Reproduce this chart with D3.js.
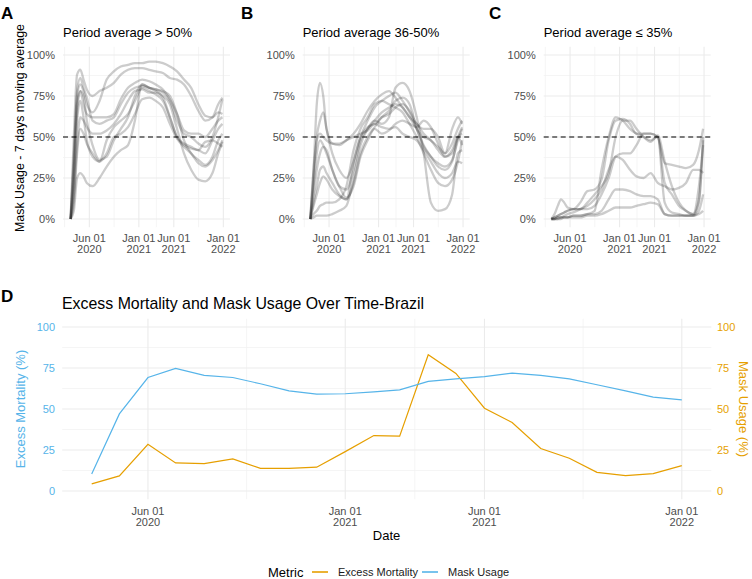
<!DOCTYPE html>
<html>
<head>
<meta charset="utf-8">
<script src="https://cdn.jsdelivr.net/npm/d3@7"></script>
<style>
  body { margin: 0; background: #fff; }
  svg { display: block; font-family: "Liberation Sans", Arial, sans-serif; }
</style>
</head>
<body>
<div id="chart"></div>
<script>
// ---- data -------------------------------------------------------------
var periodDates = ["2020-03-12", "2020-03-26", "2020-04-09", "2020-04-23", "2020-05-07", "2020-05-21",
    "2020-06-15", "2020-07-15", "2020-08-15", "2020-09-15", "2020-10-15", "2020-11-15", "2020-12-15",
    "2021-01-15", "2021-02-15", "2021-03-15", "2021-04-15", "2021-05-15", "2021-06-15", "2021-07-15",
    "2021-08-15", "2021-09-15", "2021-10-15", "2021-11-15", "2021-12-10", "2021-12-28"];

// mask usage (%) per region, 7 days moving average
var groupAbove50 = [
    [0, 40, 75, 82, 78, 70, 65, 72, 85, 90, 93, 94, 95, 95, 96, 96, 95, 93, 90, 85, 80, 70, 63, 62, 65, 64],
    [0, 50, 88, 91, 85, 79, 75, 78, 80, 83, 88, 91, 92, 92, 91, 90, 89, 86, 85, 82, 75, 66, 60, 62, 70, 74],
    [0, 5, 25, 28, 26, 22, 20, 25, 32, 38, 42, 45, 60, 82, 80, 78, 75, 70, 55, 40, 30, 24, 23, 28, 40, 47],
    [0, 30, 70, 78, 75, 60, 45, 36, 38, 48, 55, 62, 75, 82, 80, 79, 78, 75, 64, 48, 40, 36, 33, 38, 48, 52],
    [0, 20, 60, 72, 62, 48, 38, 35, 48, 56, 60, 64, 72, 80, 78, 76, 72, 62, 50, 45, 43, 42, 40, 48, 55, 58],
    [0, 35, 78, 86, 80, 74, 60, 58, 60, 62, 70, 77, 80, 81, 80, 79, 77, 72, 60, 52, 50, 46, 44, 50, 62, 73],
    [0, 25, 65, 78, 70, 64, 62, 62, 62, 64, 73, 80, 83, 85, 84, 82, 79, 73, 64, 54, 52, 52, 50, 55, 60, 62],
    [0, 15, 45, 62, 60, 56, 52, 52, 54, 58, 64, 72, 78, 79, 77, 77, 74, 62, 50, 46, 44, 42, 47, 48, 46, 44],
    [0, 10, 40, 55, 52, 46, 40, 35, 40, 50, 52, 56, 64, 73, 74, 72, 68, 58, 49, 44, 40, 34, 32, 36, 42, 48]
];
var group36to50 = [
    [0, 30, 70, 83, 75, 55, 46, 45, 48, 52, 58, 66, 72, 76, 78, 74, 68, 62, 58, 52, 48, 44, 40, 46, 55, 60],
    [0, 25, 50, 60, 65, 55, 40, 30, 25, 35, 50, 60, 68, 72, 75, 77, 72, 65, 55, 45, 38, 32, 30, 35, 50, 56],
    [0, 1, 2, 2, 2, 2, 3, 5, 8, 25, 45, 55, 60, 58, 62, 80, 83, 78, 62, 40, 10, 5, 6, 15, 40, 42],
    [0, 3, 5, 8, 9, 10, 10, 12, 20, 42, 55, 62, 70, 72, 70, 68, 65, 58, 50, 40, 30, 22, 20, 24, 35, 48],
    [0, 20, 40, 48, 45, 40, 30, 20, 18, 30, 48, 55, 60, 65, 68, 70, 68, 62, 55, 50, 48, 42, 38, 40, 50, 52],
    [0, 30, 48, 52, 50, 48, 46, 46, 48, 50, 52, 54, 58, 56, 55, 56, 52, 50, 48, 42, 35, 28, 25, 28, 35, 34],
    [0, 10, 20, 30, 32, 28, 22, 15, 12, 35, 50, 56, 58, 62, 64, 68, 70, 66, 58, 55, 55, 50, 40, 55, 62, 58],
    [0, 15, 30, 40, 44, 42, 30, 20, 13, 20, 38, 48, 55, 52, 54, 58, 60, 58, 56, 60, 56, 46, 38, 42, 50, 45],
    [0, 8, 15, 22, 26, 24, 18, 14, 12, 22, 40, 50, 56, 62, 66, 72, 74, 70, 55, 44, 38, 34, 32, 36, 48, 55]
];
var groupBelow35 = [
    [0, 3, 8, 12, 10, 7, 6, 10, 17, 18, 24, 48, 60, 61, 58, 52, 52, 52, 50, 34, 33, 32, 31, 33, 42, 55],
    [0, 0, 1, 1, 1, 1, 2, 2, 3, 5, 30, 50, 62, 60, 55, 52, 50, 48, 50, 10, 4, 3, 2, 2, 10, 48],
    [0, 0, 1, 1, 2, 3, 4, 6, 8, 12, 18, 30, 38, 36, 30, 26, 25, 28, 22, 20, 18, 19, 22, 30, 30, 28],
    [0, 0, 0, 1, 1, 1, 2, 2, 3, 3, 5, 12, 18, 18, 17, 15, 14, 14, 12, 3, 2, 2, 2, 2, 5, 15],
    [0, 0, 0, 0, 1, 1, 1, 1, 2, 2, 3, 5, 7, 7, 7, 8, 9, 10, 9, 3, 2, 2, 2, 2, 3, 5],
    [0, 1, 2, 3, 4, 5, 6, 6, 6, 8, 15, 25, 38, 40, 40, 45, 52, 52, 50, 22, 15, 8, 5, 3, 20, 45],
    [0, 1, 2, 3, 4, 5, 6, 6, 10, 15, 20, 28, 50, 60, 60, 55, 50, 47, 51, 35, 20, 10, 5, 3, 12, 50]
];
var panelTags = ["A", "B", "C"];
var panelTitles = ["Period average > 50%", "Period average 36-50%", "Period average \u2264 35%"];
var pctTicks = [0, 25, 50, 75, 100];
var dateTicks = ["2020-06-01", "2021-01-01", "2021-06-01", "2022-01-01"];

var brazilDates = ["2020-04-01", "2020-05-01", "2020-06-01", "2020-07-01", "2020-08-01", "2020-09-01",
    "2020-10-01", "2020-11-01", "2020-12-01", "2021-01-01", "2021-02-01", "2021-03-01", "2021-04-01",
    "2021-05-01", "2021-06-01", "2021-07-01", "2021-08-01", "2021-09-01", "2021-10-01", "2021-11-01",
    "2021-12-01", "2022-01-01"];
var maskUsage = [10.4, 47, 69.2, 74.7, 70.5, 69.2, 65.4, 61.1, 59.1, 59.3, 60.5, 61.7, 66.8, 68.4, 69.7,
    71.9, 70.5, 68.4, 64.8, 61.1, 57.2, 55.6];
var excessMortality = [4.3, 9.2, 28.5, 17.1, 16.7, 19.6, 13.8, 13.8, 14.5, 24, 33.8, 33.4, 83.1, 71.7,
    50.5, 41.8, 25.9, 20, 11.4, 9.4, 10.6, 15.5];
var metricNames = ["Excess Mortality", "Mask Usage"];
var metricColors = ["#E69F00", "#56B4E9"];

// ---- helpers ----------------------------------------------------------
var parse = d3.timeParse("%Y-%m-%d");
var fmtDay = d3.timeFormat("%b %d"), fmtYear = d3.timeFormat("%Y");
var gridMajor = "#ebebeb", gridMinor = "#f3f3f3", tickCol = "#4d4d4d";

function expand(lo, hi) {
    var pad = (hi - lo) * 0.05;
    return [lo - pad, hi + pad];
}
function expandDates(ext) {
    var e = expand(+ext[0], +ext[1]);
    return [new Date(e[0]), new Date(e[1])];
}
function minorBreaks(major, dom) {
    var v = major.map(function(d) { return +d; }), out = [];
    var first = v[0] - (v[1] - v[0]) / 2, last = v[v.length - 1] + (v[v.length - 1] - v[v.length - 2]) / 2;
    out.push(first);
    for (var i = 1; i < v.length; i++) out.push((v[i - 1] + v[i]) / 2);
    out.push(last);
    return out.filter(function(t) { return t >= +dom[0] && t <= +dom[1]; }).map(function(t) { return new Date(t); });
}

var width = 752, height = 579;
var svg = d3.select("#chart").append("svg")
    .attr("width", width)
    .attr("height", height);

function grid(g, x, y, xMajor, yMajor, yMinor) {
    var xr = x.range(), yr = y.range();
    g.selectAll(".hmin").data(yMinor).enter().append("line")
        .attr("x1", xr[0]).attr("x2", xr[1])
        .attr("y1", function(d) { return y(d); }).attr("y2", function(d) { return y(d); })
        .attr("stroke", gridMinor).attr("stroke-width", 0.8);
    g.selectAll(".vmin").data(minorBreaks(xMajor, x.domain())).enter().append("line")
        .attr("y1", yr[0]).attr("y2", yr[1])
        .attr("x1", function(d) { return x(d); }).attr("x2", function(d) { return x(d); })
        .attr("stroke", gridMinor).attr("stroke-width", 0.8);
    g.selectAll(".hmaj").data(yMajor).enter().append("line")
        .attr("x1", xr[0]).attr("x2", xr[1])
        .attr("y1", function(d) { return y(d); }).attr("y2", function(d) { return y(d); })
        .attr("stroke", gridMajor).attr("stroke-width", 1.1);
    g.selectAll(".vmaj").data(xMajor).enter().append("line")
        .attr("y1", yr[0]).attr("y2", yr[1])
        .attr("x1", function(d) { return x(d); }).attr("x2", function(d) { return x(d); })
        .attr("stroke", gridMajor).attr("stroke-width", 1.1);
}

function dateLabels(g, x, ticks, yBase) {
    var t = g.selectAll(".xlab").data(ticks).enter().append("text")
        .attr("text-anchor", "middle")
        .attr("font-size", 11)
        .attr("fill", tickCol);
    t.append("tspan").attr("x", function(d) { return x(d); }).attr("y", yBase).text(function(d) { return fmtDay(d); });
    t.append("tspan").attr("x", function(d) { return x(d); }).attr("y", yBase + 11).text(function(d) { return fmtYear(d); });
}

// ---- panels A-C -------------------------------------------------------
var pDates = periodDates.map(parse);
var majorDates = dateTicks.map(parse);
var groups = [groupAbove50, group36to50, groupBelow35];
var panelLefts = [63, 302.7, 543.7], panelW = 167;
var yTop = d3.scaleLinear().domain(expand(0, 100)).range([227.2, 46.8]);

groups.forEach(function(series, i) {
    var left = panelLefts[i];
    var x = d3.scaleTime().domain(expandDates(d3.extent(pDates))).range([left, left + panelW]);
    var g = svg.append("g");

    grid(g, x, yTop, majorDates, pctTicks, [12.5, 37.5, 62.5, 87.5]);

    var line = d3.line()
        .x(function(d, k) { return x(pDates[k]); })
        .y(function(d) { return yTop(d); })
        .curve(d3.curveMonotoneX);

    g.selectAll(".region").data(series).enter().append("path")
        .attr("d", line)
        .attr("fill", "none")
        .attr("stroke", "#2b2b2b")
        .attr("stroke-opacity", 0.24)
        .attr("stroke-width", 2.3)
        .attr("stroke-linejoin", "round");

    g.append("line")
        .attr("x1", left).attr("x2", left + panelW)
        .attr("y1", yTop(50)).attr("y2", yTop(50))
        .attr("stroke", "#000")
        .attr("stroke-width", 1.1)
        .attr("stroke-dasharray", "5,3.5");

    g.selectAll(".ylab").data(pctTicks).enter().append("text")
        .attr("x", left - 8)
        .attr("y", function(d) { return yTop(d); })
        .attr("dy", "0.35em")
        .attr("text-anchor", "end")
        .attr("font-size", 11)
        .attr("fill", tickCol)
        .text(function(d) { return d + "%"; });

    dateLabels(g, x, majorDates, 242);

    g.append("text")
        .attr("x", left)
        .attr("y", 37)
        .attr("font-size", 13)
        .attr("fill", "#000")
        .text(panelTitles[i]);

    svg.append("text")
        .attr("x", [1, 241, 489][i])
        .attr("y", 19)
        .attr("font-size", 17)
        .attr("font-weight", "bold")
        .text(panelTags[i]);
});

svg.append("text")
    .attr("transform", "translate(24,128) rotate(-90)")
    .attr("text-anchor", "middle")
    .attr("font-size", 12.4)
    .attr("fill", "#000")
    .text("Mask Usage - 7 days moving average");

// ---- panel D ----------------------------------------------------------
var bDates = brazilDates.map(parse);
var xD = d3.scaleTime().domain(expandDates(d3.extent(bDates))).range([62.2, 711.3]);
var yD = d3.scaleLinear().domain(expand(0, 100)).range([499.2, 318.8]);
var gD = svg.append("g");

grid(gD, xD, yD, majorDates, pctTicks, [12.5, 37.5, 62.5, 87.5]);

var lineD = d3.line()
    .x(function(d, k) { return xD(bDates[k]); })
    .y(function(d) { return yD(d); });

[excessMortality, maskUsage].forEach(function(vals, k) {
    gD.append("path")
        .datum(vals)
        .attr("d", lineD)
        .attr("fill", "none")
        .attr("stroke", metricColors[k])
        .attr("stroke-width", 1.2);
});

gD.selectAll(".yl").data(pctTicks).enter().append("text")
    .attr("x", 55).attr("y", function(d) { return yD(d); })
    .attr("dy", "0.35em").attr("text-anchor", "end")
    .attr("font-size", 11).attr("fill", metricColors[1])
    .text(function(d) { return d; });
gD.selectAll(".yr").data(pctTicks).enter().append("text")
    .attr("x", 717).attr("y", function(d) { return yD(d); })
    .attr("dy", "0.35em").attr("text-anchor", "start")
    .attr("font-size", 11).attr("fill", metricColors[0])
    .text(function(d) { return d; });

dateLabels(gD, xD, majorDates, 514.5);

svg.append("text")
    .attr("x", 1).attr("y", 302)
    .attr("font-size", 17).attr("font-weight", "bold")
    .text("D");
svg.append("text")
    .attr("x", 62).attr("y", 309)
    .attr("font-size", 15.9).attr("fill", "#000")
    .text("Excess Mortality and Mask Usage Over Time-Brazil");
svg.append("text")
    .attr("transform", "translate(25,409) rotate(-90)")
    .attr("text-anchor", "middle").attr("font-size", 13)
    .attr("fill", metricColors[1])
    .text("Excess Mortality (%)");
svg.append("text")
    .attr("transform", "translate(739,409) rotate(90)")
    .attr("text-anchor", "middle").attr("font-size", 13)
    .attr("fill", metricColors[0])
    .text("Mask Usage (%)");
svg.append("text")
    .attr("x", 386.5).attr("y", 540)
    .attr("text-anchor", "middle").attr("font-size", 13)
    .text("Date");

// legend
var legend = svg.append("g").attr("transform", "translate(268,572)");
legend.append("text").attr("x", 0).attr("dy", "0.35em").attr("font-size", 13).text("Metric");
var itemX = [44, 154];
metricNames.forEach(function(name, k) {
    legend.append("line")
        .attr("x1", itemX[k]).attr("x2", itemX[k] + 16)
        .attr("stroke", metricColors[k]).attr("stroke-width", 1.6);
    legend.append("text")
        .attr("x", itemX[k] + 26).attr("dy", "0.35em")
        .attr("font-size", 11).attr("fill", "#1a1a1a")
        .text(name);
});
</script>
</body>
</html>
